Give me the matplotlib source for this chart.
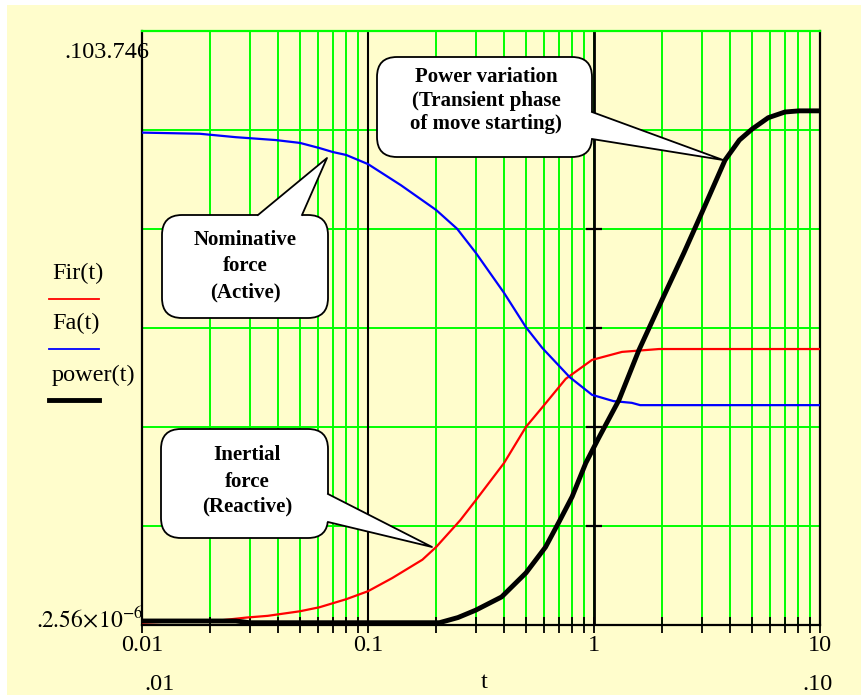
import matplotlib
matplotlib.use("Agg")
import matplotlib.pyplot as plt
from matplotlib.patches import FancyBboxPatch, Polygon, Rectangle
from matplotlib.lines import Line2D
from matplotlib.transforms import Affine2D

# values (t on log axis)
t_fa = [0.01, 0.018, 0.026, 0.039, 0.05, 0.061, 0.07, 0.08, 0.1, 0.14, 0.2, 0.248,
        0.3, 0.4, 0.5, 0.59, 0.78, 0.98, 1.22, 1.47, 1.6, 10]
fa = [86.0, 85.8, 85.2, 84.7, 84.2, 83.3, 82.6, 82.1, 80.5, 76.8, 72.5, 69.2,
      65.0, 58.0, 52.0, 48.4, 43.3, 40.2, 39.1, 38.8, 38.4, 38.4]

t_fir = [0.01, 0.0133, 0.021, 0.029, 0.036, 0.05, 0.061, 0.08, 0.1, 0.128, 0.174, 0.2,
         0.256, 0.3, 0.4, 0.5, 0.59, 0.75, 0.98, 1.33, 1.94, 10]
fir = [0.4, 0.6, 0.7, 1.3, 1.6, 2.4, 3.1, 4.5, 5.9, 8.2, 11.4, 13.6,
       18.3, 21.8, 28.3, 34.6, 38.0, 43.0, 46.3, 47.7, 48.2, 48.2]

t_pow = [0.01, 0.026, 0.03, 0.207, 0.25, 0.3, 0.39, 0.5, 0.61, 0.7, 0.8, 0.92, 1.05,
         1.29, 1.58, 2.0, 2.5, 3.0, 3.8, 4.4, 5.0, 5.9, 7.0, 8.1, 10]
power = [0.7, 0.7, 0.4, 0.4, 1.3, 2.6, 4.9, 9.1, 13.6, 18.0, 22.4, 28.3, 32.7,
         39.3, 48.0, 56.8, 65.0, 72.0, 81.2, 84.7, 86.6, 88.6, 89.6, 89.8, 89.8]

y_min, y_max = 2.56e-6, 103.746
x_major = [0.01, 0.1, 1, 10]
x_major_labels = ["0.01", "0.1", "1", "10"]

W, H = 861, 695
cream = "#FFFDCC"
green = "#00FF00"
serif = "Liberation Serif"
plt.rcParams["font.family"] = serif
plt.rcParams["mathtext.fontset"] = "stix"
fs = 17.5

fig = plt.figure(figsize=(W / 100, H / 100), dpi=100, facecolor="white")
# pixel transform, origin top-left
T = Affine2D().scale(1, -1).translate(0, H)
fig.add_artist(Rectangle((7, 5), W, H, transform=T, facecolor=cream, edgecolor="none", zorder=-10))

ax = fig.add_axes([142 / W, 1 - 625 / H, 678 / W, 594 / H])
ax.set_facecolor(cream)
ax.set_xscale("log")
ax.set_xlim(0.01, 10)
ax.set_ylim(y_min, y_max)

ax.set_xticks(x_major)
ax.set_xticklabels(x_major_labels)
minors = [m * d for d in [0.01, 0.1, 1] for m in range(2, 10)]
ax.set_xticks(minors, minor=True)
ax.set_xticklabels([], minor=True)
ylev = [y_max * k / 6 for k in range(1, 6)]
ax.set_yticks(ylev)
ax.tick_params(axis="y", length=0, labelleft=False)
ax.tick_params(axis="x", which="both", direction="inout", length=11, width=1.3,
               color="black", labelsize=fs, pad=2)
ax.set_axisbelow(True)
ax.grid(axis="x", which="both", color=green, lw=1.4)
ax.grid(axis="y", which="major", color=green, lw=1.4)
for s in ["left", "right", "bottom"]:
    ax.spines[s].set_color("black")
    ax.spines[s].set_linewidth(1.6)
ax.spines["top"].set_color(green)
ax.spines["top"].set_linewidth(1.6)

ax.axvline(0.1, color="black", lw=1.5, zorder=1.5)
ax.axvline(1, color="black", lw=2.0, zorder=1.5)
ax.plot([1] * len(ylev), ylev, ls="none", marker="_", ms=11, mew=1.6, color="black", zorder=1.6)

ax.plot(t_fir, fir, color="#FF0000", lw=1.6, zorder=3)
ax.plot(t_fa, fa, color="#0000FF", lw=1.6, zorder=3)
ax.plot(t_pow, power, color="black", lw=3.5, zorder=4)


def ftxt(x, y, s, **kw):
    fig.text(x / W, 1 - y / H, s, **kw)


# left "legend"
ftxt(52, 273, "Fir(t)", fontsize=fs, va="center")
ftxt(52, 323, "Fa(t)", fontsize=fs, va="center")
ftxt(52, 375, "power(t)", fontsize=fs, va="center")
fig.add_artist(Line2D([49, 99], [299, 299], transform=T, color="#FF0000", lw=1.3))
fig.add_artist(Line2D([49, 99], [349, 349], transform=T, color="#0000FF", lw=1.3))
fig.add_artist(Line2D([49, 99], [400, 400], transform=T, color="black", lw=3.5))

# axis limit labels
ftxt(149, 53, ".103.746", fontsize=fs, ha="right", va="center")
ftxt(144, 627, r"$2.56\!\times\!10^{-6}$", fontsize=17, ha="right", va="baseline")
ftxt(42, 627, ".", fontsize=fs, ha="right", va="baseline")
ftxt(160, 685, ".01", fontsize=fs, ha="center", va="center")
ftxt(484, 683, "t", fontsize=fs, ha="center", va="center")
ftxt(818, 685, ".10", fontsize=fs, ha="center", va="center")


def bubble(box, base1, base2, inner1, inner2, tip, lines, cx, ys):
    x0, y0, x1, y1 = box
    fig.add_artist(FancyBboxPatch((x0, y0), x1 - x0, y1 - y0, transform=T,
                                  boxstyle="round,pad=0,rounding_size=20",
                                  facecolor="white", edgecolor="black", lw=1.3, zorder=5))
    fig.add_artist(Polygon([inner1, base1, tip, base2, inner2], closed=True, transform=T,
                           facecolor="white", edgecolor="none", zorder=6))
    fig.add_artist(Line2D([base1[0], tip[0], base2[0]], [base1[1], tip[1], base2[1]],
                          transform=T, color="black", lw=1.3, zorder=7))
    for s, y in zip(lines, ys):
        ftxt(cx, y, s, fontsize=15, fontweight="bold", ha="center", va="center", zorder=8)


bubble((162, 215, 328, 318), (258, 215), (302, 215), (258, 222), (302, 222), (327, 158),
       ["Nominative", "force", "(Active)"], 245, [240, 266, 292])
bubble((377, 57, 592, 157), (592, 112), (592, 139), (585, 112), (585, 139), (723, 160),
       ["Power variation", "(Transient phase", "of move starting)"], 486, [77, 101, 124])
bubble((161, 429, 328, 538), (328, 494), (328, 522), (321, 494), (321, 522), (432, 547),
       ["Inertial", "force", "(Reactive)"], 247, [455, 482, 506])

fig.savefig("out.png", dpi=100)
